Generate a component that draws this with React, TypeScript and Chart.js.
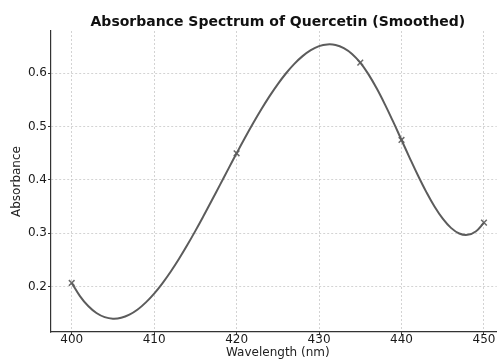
import React, { useEffect, useRef } from "react";
import { Chart, registerables } from "chart.js";

Chart.register(...registerables);

const chartTitle = "Absorbance Spectrum of Quercetin (Smoothed)";
const xAxisLabel = "Wavelength (nm)";
const yAxisLabel = "Absorbance";

// measured points (x markers)
const measuredWavelengths = [400, 420, 435, 440, 450];
const measuredAbsorbance = [0.207, 0.45, 0.62, 0.475, 0.32];

// smoothed curve, 1 nm steps
const curveWavelengths = [
  400, 401, 402, 403, 404, 405, 406, 407, 408, 409,
  410, 411, 412, 413, 414, 415, 416, 417, 418, 419,
  420, 421, 422, 423, 424, 425, 426, 427, 428, 429,
  430, 431, 432, 433, 434, 435, 436, 437, 438, 439,
  440, 441, 442, 443, 444, 445, 446, 447, 448, 449, 450,
];
const curveAbsorbance = [
  0.207, 0.1824, 0.1637, 0.1507, 0.1429, 0.14, 0.1416, 0.1475, 0.1572, 0.1705,
  0.1869, 0.2062, 0.2279, 0.2518, 0.2775, 0.3046, 0.3329, 0.3619, 0.3913, 0.4208,
  0.45, 0.4786, 0.5062, 0.5325, 0.5572, 0.5798, 0.6001, 0.6177, 0.6322, 0.6434,
  0.6509, 0.6542, 0.6532, 0.6473, 0.6364, 0.62, 0.598, 0.5714, 0.5413, 0.5088,
  0.475, 0.4411, 0.4083, 0.3777, 0.3503, 0.3275, 0.3102, 0.2997, 0.2971, 0.3034, 0.32,
];

const FONT = "'DejaVu Sans', sans-serif";

const textPlugin = {
  id: "mplText",
  afterDraw(chart: any) {
    const { ctx, scales } = chart;
    const xs = scales.x;
    const cx = xs.getPixelForValue(425);
    ctx.save();
    ctx.fillStyle = "#111";
    ctx.textAlign = "center";
    ctx.textBaseline = "alphabetic";
    ctx.font = `bold 14px ${FONT}`;
    ctx.fillText(chartTitle, cx, 26);
    ctx.font = `12px ${FONT}`;
    ctx.fillStyle = "#222";
    ctx.fillText(xAxisLabel, cx, 356);
    ctx.restore();
  },
};

export default function App() {
  const ref = useRef<HTMLCanvasElement | null>(null);
  useEffect(() => {
    document.body.style.margin = "0";
    const canvas = ref.current;
    if (!canvas) return;
    const chart = new Chart(canvas, {
      type: "line",
      data: {
        datasets: [
          {
            label: "Smoothed",
            data: curveWavelengths.map((x, i) => ({ x, y: curveAbsorbance[i] })),
            borderColor: "#5c5c5c",
            borderWidth: 2,
            pointRadius: 0,
            tension: 0.4,
            fill: false,
          },
          {
            label: "Measured",
            data: measuredWavelengths.map((x, i) => ({ x, y: measuredAbsorbance[i] })),
            showLine: false,
            pointStyle: "crossRot",
            pointRadius: 4,
            borderColor: "#6a6a6a",
            borderWidth: 1.5,
            pointBorderWidth: 1.5,
          },
        ],
      },
      options: {
        animation: false,
        responsive: false,
        maintainAspectRatio: false,
        layout: { autoPadding: false, padding: { top: 31, left: 0, right: 0, bottom: 0 } },
        plugins: {
          legend: { display: false },
          title: { display: false },
          tooltip: { enabled: false },
        },
        scales: {
          x: {
            type: "linear",
            min: 397.49,
            max: 451.58,
            afterFit(scale: any) {
              scale.height = 28;
              scale.paddingLeft = 0;
              scale.paddingRight = 0;
            },
            ticks: {
              stepSize: 10,
              includeBounds: false,
              color: "#1a1a1a",
              font: { family: FONT, size: 12, lineHeight: 1 },
              padding: -1,
              maxRotation: 0,
            },
            grid: {
              color: "#c0c0c0",
              lineWidth: 0.7,
              tickColor: "#333",
              tickLength: 3,
              tickWidth: 1,
            },
            border: { display: true, color: "#333", width: 1.2, dash: [2, 2] },
          },
          y: {
            type: "linear",
            min: 0.115,
            max: 0.6793,
            afterFit(scale: any) {
              scale.width = 51;
              scale.paddingTop = 0;
              scale.paddingBottom = 0;
            },
            ticks: {
              stepSize: 0.1,
              includeBounds: false,
              color: "#1a1a1a",
              font: { family: FONT, size: 12 },
              padding: 1,
              callback: (v: any) => Number(v).toFixed(1),
            },
            grid: {
              color: "#c0c0c0",
              lineWidth: 0.7,
              tickColor: "#333",
              tickLength: 3,
              tickWidth: 1,
            },
            border: { display: true, color: "#333", width: 1.2, dash: [2, 2] },
            title: {
              display: true,
              text: yAxisLabel,
              color: "#222",
              font: { family: FONT, size: 12 },
              padding: { top: 10, bottom: 0 },
            },
          },
        },
      },
      plugins: [textPlugin],
    } as any);
    return () => chart.destroy();
  }, []);
  return (
    <div style={{ position: "absolute", left: 0, top: 0, width: 497, height: 360, background: "#fff" }}>
      <canvas ref={ref} width={497} height={360} />
    </div>
  );
}
